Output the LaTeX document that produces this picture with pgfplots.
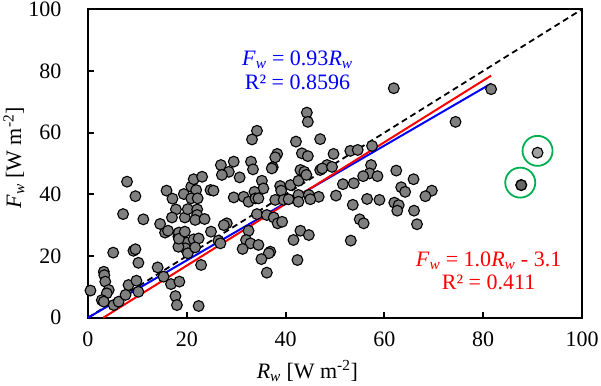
\documentclass[border=0pt]{standalone}
\usepackage{fontspec}
\setmainfont{Liberation Serif}
\usepackage{pgfplots}
\pgfplotsset{compat=1.18}
\definecolor{pt}{HTML}{7F7F7F}
\definecolor{ptl}{HTML}{A0A0A0}
\definecolor{grn}{HTML}{00B050}
\newcommand{\fw}{\textit{F}\textsubscript{\textit{w}}}
\newcommand{\rw}{\textit{R}\textsubscript{\textit{w}}}

\begin{document}
\begin{tikzpicture}[font=\fontsize{22bp}{26bp}\selectfont]
\begin{axis}[width=494bp,height=308.4bp,scale only axis,
  xmin=0,xmax=100,ymin=0,ymax=100,
  xtick={0,20,...,100},ytick={0,20,...,100},
  tick pos=left,tick align=inside,major tick length=6bp,
  axis line style={line width=2bp},every tick/.style={black,line width=2bp},
  /pgf/number format/assume math mode=true,
  tick label style={font=\fontsize{22bp}{26bp}\selectfont},
  xticklabel shift=11bp,yticklabel shift=23bp,
  xlabel={\rw{} [W m\textsuperscript{-2}]},ylabel={\fw{} [W m\textsuperscript{-2}]},
  xlabel style={at={(axis description cs:0.444,0)},anchor=base,yshift=-60.3bp},
  ylabel style={at={(axis description cs:0,0.518)},anchor=center,yshift=74bp},
  clip=false]
\addplot[black,line width=1.8bp,dash pattern=on 6bp off 4bp] coordinates {(0,0) (100,100)};
\addplot[blue,line width=2bp] coordinates {(0,0) (81.6,75.9)};
\addplot[red,line width=2bp] coordinates {(3.1,0) (81.6,78.5)};
\addplot[only marks,mark=*,mark size=5.4bp,mark options={fill=pt,draw=black,line width=1.1bp}] table {
x y
0.5 8.8
5.1 21.1
3.2 14.9
3.3 13.8
3.5 11.7
4.2 9.0
3.8 7.9
2.8 5.7
3.2 5.2
5.2 4.1
6.2 5.2
7.6 7.4
8.2 10.6
9.8 12.0
10.2 8.4
9.2 21.7
9.6 22.2
10.2 17.8
14.1 16.3
15.3 13.3
16.8 10.9
18.5 11.7
17.7 7.0
18.0 4.1
22.4 3.8
15.6 27.6
18.3 26.3
18.7 25.2
20.0 24.3
21.4 25.4
22.4 25.7
19.7 22.5
20.2 20.9
21.7 22.8
22.9 17.1
18.3 23.0
7.9 44.1
9.6 39.4
7.1 33.6
11.2 31.9
14.6 30.4
15.9 41.2
17.1 38.6
16.2 28.2
17.8 35.1
17.0 32.5
18.4 27.6
18.4 25.6
19.6 32.5
19.4 40.1
20.2 35.2
20.9 42.5
21.4 44.9
23.1 45.7
21.9 41.4
20.9 38.7
22.2 38.7
22.1 35.1
22.1 33.3
21.7 31.7
23.6 32.0
19.6 27.9
24.8 41.4
44.3 66.5
44.5 63.5
34.2 60.6
33.2 57.8
42.1 57.1
47.0 57.9
38.3 53.1
37.9 52.0
37.4 48.8
37.2 48.4
43.3 53.3
44.5 52.4
48.4 49.5
29.5 50.6
26.9 49.5
28.5 47.3
27.1 46.3
33.0 50.6
33.4 48.1
30.7 45.5
25.4 41.2
35.2 44.4
35.5 41.9
33.7 40.8
38.9 42.7
39.1 41.2
41.0 43.0
42.6 44.4
43.0 47.9
43.8 47.3
44.2 46.3
47.0 47.9
29.5 39.0
31.5 39.2
32.5 37.6
33.9 38.7
34.5 38.7
37.9 38.2
39.6 38.2
40.6 38.4
42.6 39.8
44.7 39.8
46.7 39.2
42.6 37.6
45.0 38.4
28.1 30.6
27.5 30.0
24.9 27.9
26.4 25.0
26.8 24.1
34.2 33.6
36.2 33.3
37.6 32.5
38.4 30.6
39.3 31.1
32.5 28.2
32.0 25.2
32.9 24.1
34.5 23.6
31.3 22.3
36.9 21.4
36.6 20.9
35.1 19.0
36.2 14.6
41.6 25.2
43.0 28.2
44.7 26.8
42.4 18.7
61.9 74.4
49.7 53.1
53.1 54.1
54.6 54.4
57.5 55.7
47.4 48.4
49.4 48.9
57.3 49.5
57.0 46.8
55.7 45.9
58.6 45.9
62.4 47.7
65.9 44.9
51.6 43.3
53.8 43.6
63.4 42.3
64.2 40.8
69.6 41.2
68.3 39.4
50.2 39.6
56.5 38.5
59.0 38.2
53.6 36.6
62.0 37.3
62.9 36.5
62.6 34.7
66.0 34.7
55.0 31.9
55.8 30.6
66.6 30.3
53.2 25.0
81.6 74.1
74.4 63.5
};
\addplot[only marks,mark=*,mark size=5.4bp,mark options={fill=ptl,draw=black,line width=1.1bp}] coordinates {(91.0,53.5)};
\addplot[only marks,mark=*,mark size=5.4bp,mark options={fill=pt!80!black,draw=black,line width=1.4bp}] coordinates {(87.7,43.0)};
\addplot[only marks,mark=o,mark size=15bp,mark options={draw=grn,line width=1.8bp}] coordinates {(91.0,54.1) (87.5,43.8)};
\node[blue,anchor=base] at (axis cs:42.4,81.9) {\fw{} = 0.93\rw};
\node[blue,anchor=base] at (axis cs:42.4,74.1) {R² = 0.8596};
\node[red,anchor=base] at (axis cs:81.1,16.5) {\fw{} = 1.0\rw{} - 3.1};
\node[red,anchor=base] at (axis cs:81.1,9.0) {R² = 0.411};
\end{axis}
\pgfresetboundingbox
\path[use as bounding box] (-88bp,-68.3bp) rectangle (513bp,317.7bp);
\end{tikzpicture}
\end{document}
